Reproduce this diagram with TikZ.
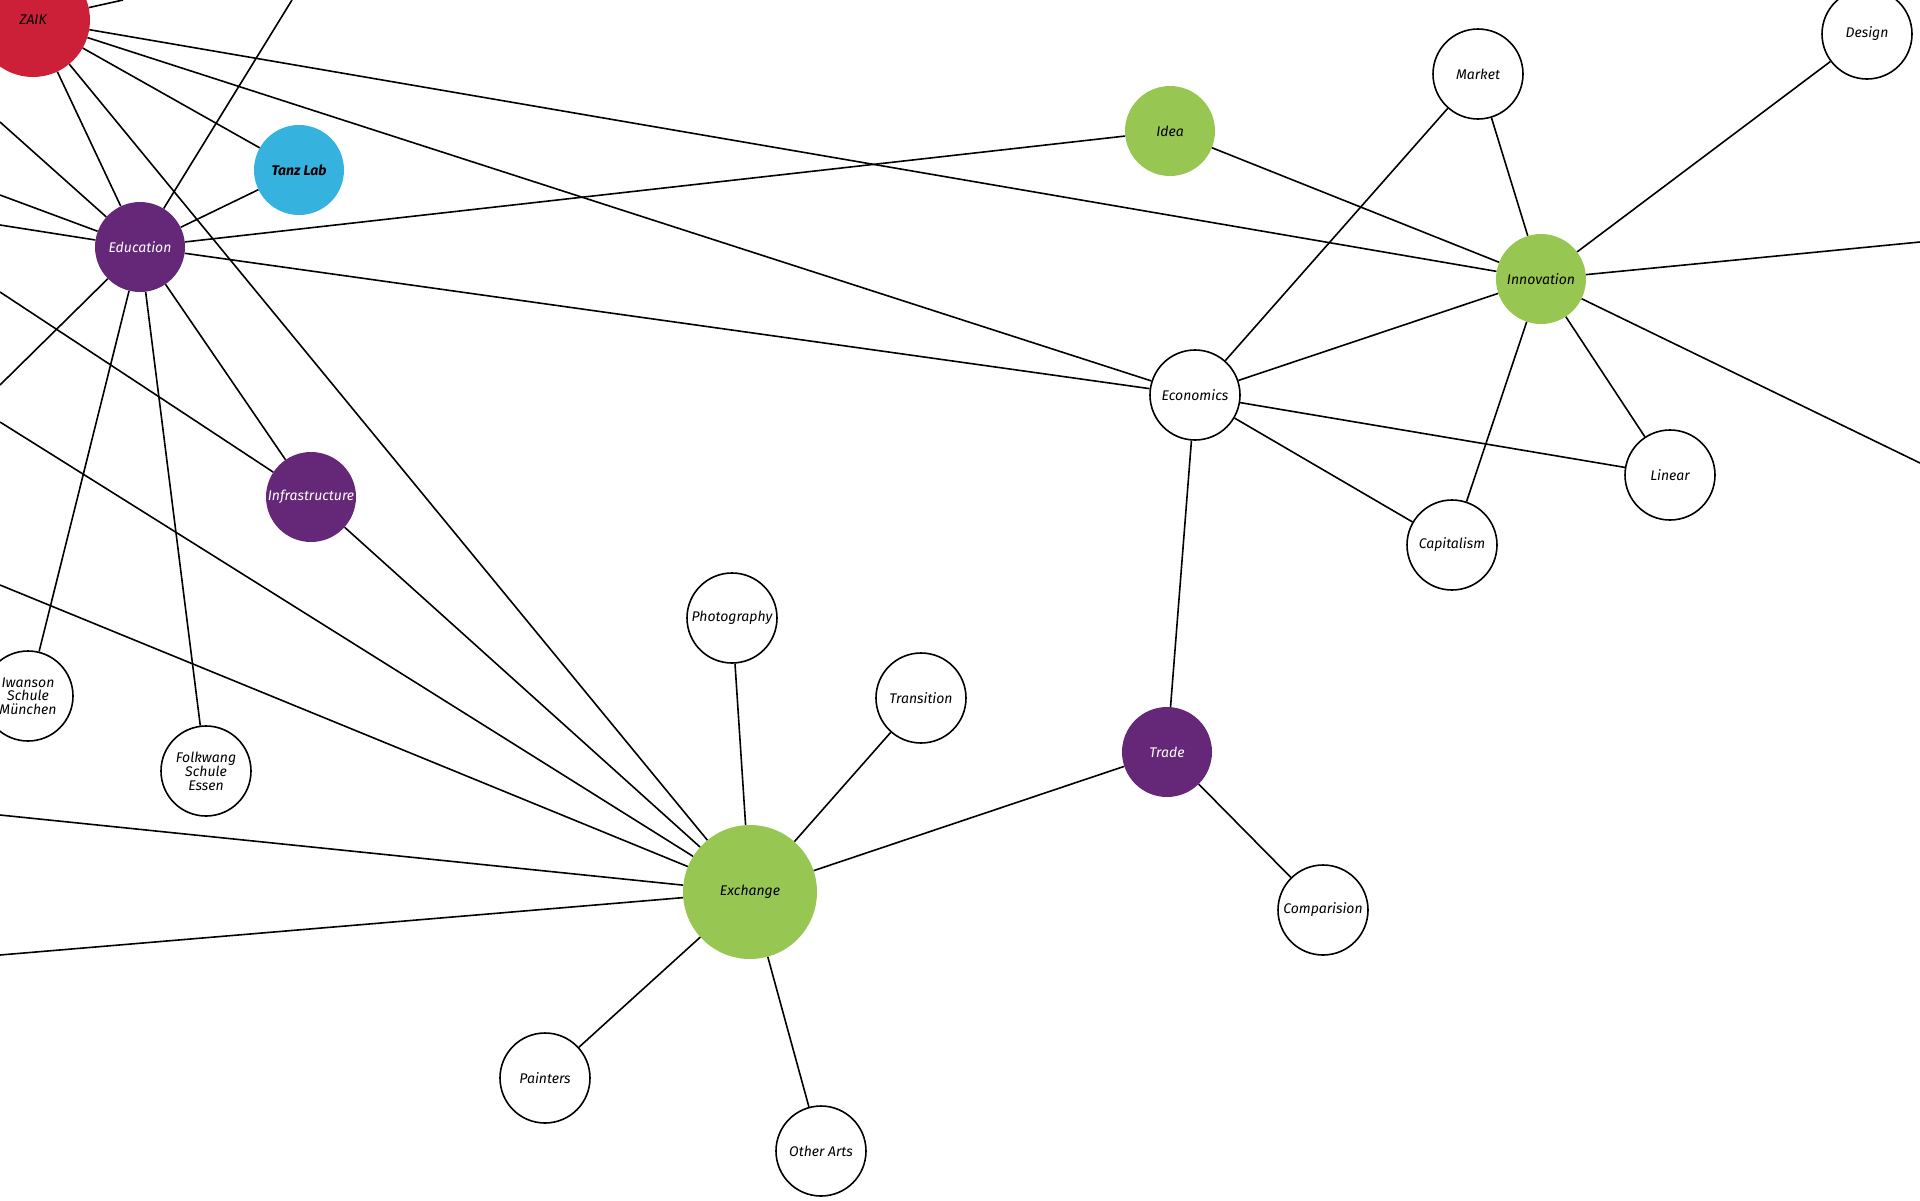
\documentclass[tikz,border=0pt]{standalone}
\usepackage{fontspec}
\setmainfont{Fira Sans}
\usepackage{tikz}

\definecolor{zaikred}{HTML}{CB2038}
\definecolor{labblue}{HTML}{35B3DE}
\definecolor{topicpurple}{HTML}{652878}
\definecolor{keygreen}{HTML}{97C653}

\begin{document}
\begin{tikzpicture}[x=1pt,y=-1pt,
    every node/.style={circle,inner sep=0pt,minimum size=90pt,align=center,
      font=\fontsize{14}{13.5}\selectfont\itshape},
    concept/.style={draw,line width=1.6pt,fill=white},
    topic/.style={fill=topicpurple,text=white},
    keyword/.style={fill=keygreen},
    link/.style={line width=1.6pt}]
    \useasboundingbox (0,0) rectangle (1920,1200);
    \clip (0,0) rectangle (1920,1200);
    % left cluster
    \node[fill=zaikred,minimum size=114pt] (zaik) at (33,20) {ZAIK};
    \node[fill=labblue,font=\fontsize{14}{13.5}\selectfont\bfseries\itshape] (tanz) at (299,170) {Tanz Lab};
    \node[topic] (edu) at (140,247) {Education};
    \node[topic] (infra) at (311,497) {Infrastructure};
    \node[concept] (iwanson) at (28,696) {Iwanson\\Schule\\München};
    \node[concept] (folkwang) at (206,771) {Folkwang\\Schule\\Essen};
    % right cluster
    \node[keyword] (idea) at (1170,131) {Idea};
    \node[concept] (market) at (1478,74) {Market};
    \node[concept] (design) at (1867,34) {Design};
    \node[keyword] (inno) at (1541,279) {Innovation};
    \node[concept] (econ) at (1195,395) {Economics};
    \node[concept] (linear) at (1670,475) {Linear};
    \node[concept] (capital) at (1452,545) {Capitalism};
    % bottom cluster
    \node[concept] (photo) at (732,618) {Photography};
    \node[concept] (trans) at (921,698) {Transition};
    \node[topic] (trade) at (1167,752) {Trade};
    \node[keyword,minimum size=134pt] (exch) at (750,892) {Exchange};
    \node[concept] (compar) at (1323,910) {Comparision};
    \node[concept] (paint) at (545,1078) {Painters};
    \node[concept] (arts) at (821,1151) {Other Arts};
    % loose ends at the border
    \coordinate (zaikup) at (123,0);
    \coordinate (eduup) at (292,0);
    \coordinate (eduwa) at (0,122);
    \coordinate (eduwb) at (0,195);
    \coordinate (eduwc) at (0,225);
    \coordinate (eduwd) at (0,385);
    \coordinate (infraw) at (0,292);
    \coordinate (exwa) at (0,422);
    \coordinate (exwb) at (0,585);
    \coordinate (exwc) at (0,815);
    \coordinate (exwd) at (0,955);
    \coordinate (innoea) at (1920,242);
    \coordinate (innoeb) at (1920,463);
    \foreach \a/\b in {zaik/zaikup,zaik/tanz,zaik/edu,zaik/inno,zaik/econ,zaik/exch,
      edu/eduup,edu/eduwa,edu/eduwb,edu/eduwc,edu/eduwd,edu/tanz,edu/idea,edu/econ,
      edu/infra,edu/iwanson,edu/folkwang,infra/infraw,infra/exch,
      idea/inno,market/inno,design/inno,inno/innoea,inno/innoeb,inno/linear,
      inno/capital,inno/econ,econ/market,econ/linear,econ/capital,econ/trade,
      exch/exwa,exch/exwb,exch/exwc,exch/exwd,exch/photo,exch/trans,exch/trade,
      exch/paint,exch/arts,trade/compar}
      \draw[link] (\a) -- (\b);
\end{tikzpicture}
\end{document}
